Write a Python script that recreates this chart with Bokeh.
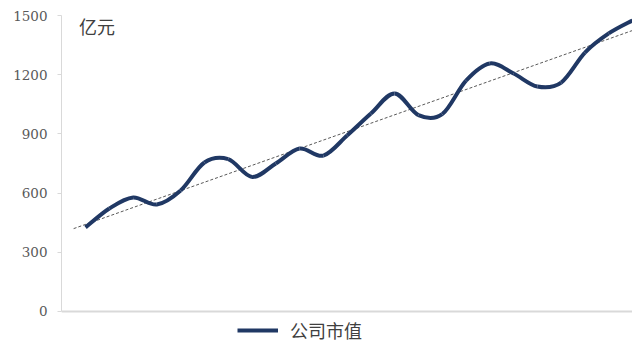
import numpy as np
from bokeh.plotting import figure
from bokeh.models import ColumnDataSource, Legend, LegendItem, Label, Range1d, FixedTicker
from bokeh.embed import file_html
from bokeh.resources import INLINE

# ---- data ----
periods = list(range(24))
market_cap = [426, 522, 578, 542, 613, 755, 772, 682, 750, 826, 790, 892,
              1003, 1105, 995, 1000, 1170, 1257, 1206, 1140, 1160, 1312, 1409, 1475]
trend_periods = [-0.5, 23]
trend_values = [420, 1424]
y_ticks = [0, 300, 600, 900, 1200, 1500]
series_name = "公司市值"
unit_label = "亿元"

LINE_COLOR = "#203864"

x = np.array(periods, dtype=float)
y = np.array(market_cap, dtype=float)

# smoothed curve (Excel-style) drawn with bezier glyphs
xp = np.concatenate([[x[0]], x, [x[-1]]])
yp = np.concatenate([[y[0]], y, [y[-1]]])
n = len(x)
segs = dict(x0=[], y0=[], x1=[], y1=[], cx0=[], cy0=[], cx1=[], cy1=[])
for i in range(n - 1):
    p0x, p0y = xp[i], yp[i]
    p1x, p1y = xp[i + 1], yp[i + 1]
    p2x, p2y = xp[i + 2], yp[i + 2]
    p3x, p3y = xp[i + 3], yp[i + 3]
    segs["x0"].append(p1x); segs["y0"].append(p1y)
    segs["x1"].append(p2x); segs["y1"].append(p2y)
    segs["cx0"].append(p1x + (p2x - p0x) / 6); segs["cy0"].append(p1y + (p2y - p0y) / 6)
    segs["cx1"].append(p2x - (p3x - p1x) / 6); segs["cy1"].append(p2y - (p3y - p1y) / 6)
curve_src = ColumnDataSource(segs)

X_START, X_END = -1.01, 23.0
Y_BOTTOM = -172.3   # frame reaches the bottom of the canvas so the legend is not clipped

p = figure(width=632, height=345, output_backend="svg", toolbar_location=None,
           x_range=Range1d(X_START, X_END), y_range=Range1d(Y_BOTTOM, 1500),
           min_border_left=61, min_border_right=0, min_border_top=15, min_border_bottom=0,
           outline_line_color=None, background_fill_color="white")

p.grid.visible = False
p.xaxis.visible = False

# bottom baseline
p.segment(x0=[X_START], y0=[0], x1=[X_END], y1=[0], line_color="#d9d9d9", line_width=2)

p.yaxis.ticker = FixedTicker(ticks=y_ticks)
p.yaxis.bounds = (0, 1500)
p.yaxis.axis_line_color = "#d9d9d9"
p.yaxis.major_tick_line_color = "#d9d9d9"
p.yaxis.major_tick_out = 4
p.yaxis.major_tick_in = 0
p.yaxis.minor_tick_line_color = None
p.yaxis.major_label_text_font = "DejaVu Serif"
p.yaxis.major_label_text_font_size = "13.5px"
p.yaxis.major_label_text_color = "#595959"
p.yaxis.major_label_standoff = 10

p.line(trend_periods, trend_values, line_color="#595959", line_width=1, line_dash="3 2")

curve = p.bezier(x0="x0", y0="y0", x1="x1", y1="y1", cx0="cx0", cy0="cy0",
                 cx1="cx1", cy1="cy1", source=curve_src,
                 line_color=LINE_COLOR, line_width=4)

p.add_layout(Label(x=-0.27, y=1512, text=unit_label, text_font="Noto Sans CJK SC",
                   text_font_size="18px", text_color="#404040", text_baseline="top"))

legend = Legend(items=[LegendItem(label=series_name, renderers=[curve])],
                location=(176, 2), orientation="horizontal",
                glyph_width=41, glyph_height=20, label_standoff=12,
                label_text_font="Noto Sans CJK SC", label_text_font_size="18px",
                label_text_color="#404040", label_height=20,
                padding=0, margin=0, spacing=0,
                border_line_alpha=0, background_fill_alpha=0)
p.add_layout(legend, "center")

open("out.html", "w").write(file_html(p, INLINE))
